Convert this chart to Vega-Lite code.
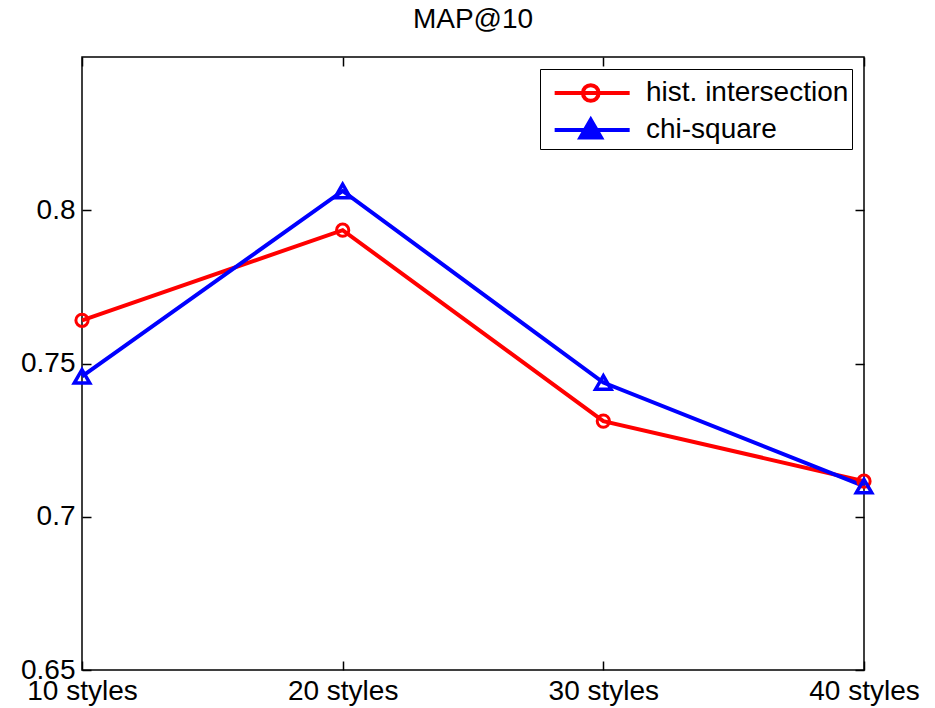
{
  "$schema": "https://vega.github.io/schema/vega-lite/v6.json",
  "width": 782,
  "height": 613,
  "autosize": {"type": "none"},
  "padding": {"left": 82, "top": 57, "right": 71, "bottom": 38},
  "background": "white",
  "config": {
    "font": "Liberation Sans",
    "view": {"stroke": "black", "strokeWidth": 1.5},
    "axis": {
      "domain": false,
      "grid": false,
      "ticks": true,
      "tickColor": "black",
      "tickWidth": 1.5,
      "tickSize": -9,
      "labelFont": "Liberation Sans",
      "labelFontSize": 28,
      "labelColor": "black",
      "title": null
    }
  },
  "title": {
    "text": "MAP@10",
    "font": "Liberation Sans",
    "fontSize": 28,
    "fontWeight": "normal",
    "color": "black",
    "anchor": "middle",
    "offset": 22
  },
  "data": {
    "values": [
      {"series": "hist. intersection", "styles": 10, "value": 0.7641},
      {"series": "hist. intersection", "styles": 20, "value": 0.7935},
      {"series": "hist. intersection", "styles": 30, "value": 0.7312},
      {"series": "hist. intersection", "styles": 40, "value": 0.7116},
      {"series": "chi-square", "styles": 10, "value": 0.7458},
      {"series": "chi-square", "styles": 20, "value": 0.8063},
      {"series": "chi-square", "styles": 30, "value": 0.7438},
      {"series": "chi-square", "styles": 40, "value": 0.7100}
    ]
  },
  "resolve": {"axis": {"x": "independent", "y": "independent"}},
  "layer": [
    {
      "mark": {"type": "line", "strokeWidth": 4},
      "encoding": {
        "x": {
          "field": "styles", "type": "quantitative",
          "scale": {"domain": [10, 40], "nice": false, "zero": false},
          "axis": {
            "orient": "bottom",
            "values": [10, 20, 30, 40],
            "labelExpr": "datum.value + ' styles'",
            "labelFlush": false,
            "labelOverlap": false,
            "labelPadding": 16
          }
        },
        "y": {
          "field": "value", "type": "quantitative",
          "scale": {"domain": [0.65, 0.85], "nice": false, "zero": false},
          "axis": {
            "orient": "left",
            "values": [0.65, 0.7, 0.75, 0.8],
            "format": ".2~f",
            "labelPadding": 16
          }
        },
        "color": {
          "field": "series", "type": "nominal",
          "scale": {"domain": ["hist. intersection", "chi-square"], "range": ["#ff0000", "#0000ff"]},
          "legend": {
            "title": null,
            "orient": "top-right",
            "offset": 12,
            "fillColor": "white",
            "strokeColor": "black",
            "padding": 3,
            "labelFont": "Liberation Sans",
            "labelFontSize": 28,
            "labelColor": "black",
            "labelLimit": 500,
            "symbolSize": 1400,
            "symbolStrokeWidth": 4,
            "rowPadding": 0,
            "labelOffset": 61,
            "encode": {
              "symbols": {
                "update": {
                  "shape": {"signal": "datum.value == 'chi-square' ? 'M-0.5,0H3.51M0.88,0.4L1.43,-0.55L1.98,0.4Z' : 'M-0.5,0H3.51M1.85,0A0.42,0.42 0 1,1 1.01,0A0.42,0.42 0 1,1 1.85,0Z'"},
                  "fill": {"signal": "datum.value == 'chi-square' ? '#0000ff' : 'transparent'"},
                  "strokeWidth": {"value": 4},
                  "opacity": {"value": 1}
                }
              }
            }
          }
        }
      }
    },
    {
      "transform": [{"filter": "datum.series == 'hist. intersection'"}],
      "mark": {"type": "point", "shape": "circle", "filled": false, "strokeWidth": 3, "size": 150, "opacity": 1, "color": "#ff0000"},
      "encoding": {
        "x": {"field": "styles", "type": "quantitative", "scale": {"domain": [10, 40], "nice": false, "zero": false}, "axis": null},
        "y": {"field": "value", "type": "quantitative", "scale": {"domain": [0.65, 0.85], "nice": false, "zero": false}, "axis": null}
      }
    },
    {
      "transform": [{"filter": "datum.series == 'chi-square'"}],
      "mark": {"type": "point", "shape": "triangle-up", "filled": false, "strokeWidth": 3.5, "size": 240, "opacity": 1, "color": "#0000ff"},
      "encoding": {
        "x": {"field": "styles", "type": "quantitative", "scale": {"domain": [10, 40], "nice": false, "zero": false}, "axis": null},
        "y": {"field": "value", "type": "quantitative", "scale": {"domain": [0.65, 0.85], "nice": false, "zero": false}, "axis": null}
      }
    },
    {
      "mark": {"type": "point", "opacity": 0},
      "encoding": {
        "x": {
          "field": "styles", "type": "quantitative",
          "scale": {"domain": [10, 40], "nice": false, "zero": false},
          "axis": {"orient": "top", "values": [10, 20, 30, 40], "labels": false}
        },
        "y": {
          "field": "value", "type": "quantitative",
          "scale": {"domain": [0.65, 0.85], "nice": false, "zero": false},
          "axis": {"orient": "right", "values": [0.65, 0.7, 0.75, 0.8], "labels": false}
        }
      }
    }
  ]
}
